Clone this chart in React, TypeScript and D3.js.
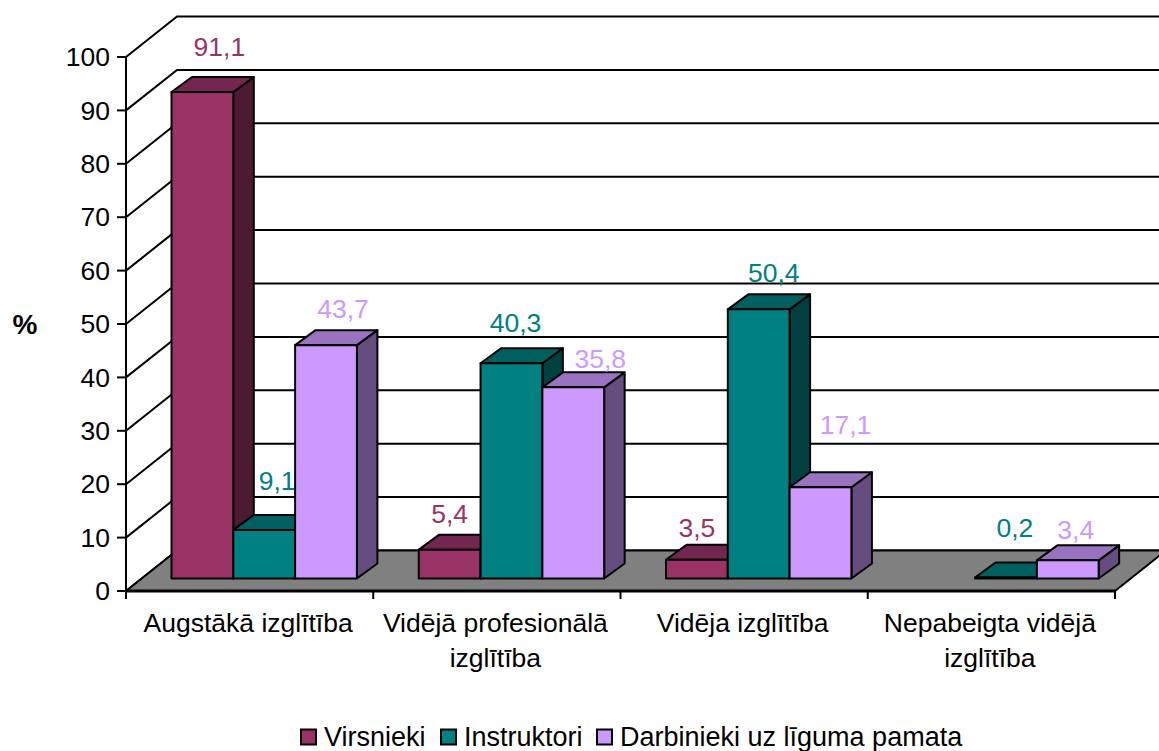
import React from "react";
import * as d3 from "d3";

const categories = [
  ["Augstākā izglītība"],
  ["Vidējā profesionālā", "izglītība"],
  ["Vidēja izglītība"],
  ["Nepabeigta vidējā", "izglītība"],
];
const seriesNames = ["Virsnieki", "Instruktori", "Darbinieki uz līguma pamata"];
const virsnieki = [91.1, 5.4, 3.5, null];
const instruktori = [9.1, 40.3, 50.4, 0.2];
const darbinieki = [43.7, 35.8, 17.1, 3.4];
const seriesValues = [virsnieki, instruktori, darbinieki];
const valueTicks = d3.range(0, 101, 10);

const frontColors = ["#993366", "#008080", "#CC99FF"];
const topColors = ["#732650", "#006060", "#9973BF"];
const sideColors = ["#4D1A33", "#004040", "#664D80"];

// hand-placed data-label nudges (px, relative to bar's front-top centre), per series/category
const labelNudgeX = [[17, 0, 0, 0], [13, 4, 15, 9], [17, 27, 25, 8]];
const labelNudgeY = [[-45, -36, -32, 0], [-49, -41, -37, -50], [-36, -29, -62, -31]];

const FONT = "'Liberation Sans', Arial, sans-serif";
const wallDx = 51, wallDy = -40.5;
const barDx = 20.5, barDy = -15;
const floorDx = 16, floorDy = -12.5;
const barW = 61.8;
const catGap = 29.5;

const y = d3.scaleLinear().domain([0, 100]).range([591, 57]);
const x = d3.scaleBand<number>().domain([0, 1, 2, 3]).range([126, 1115]);
const s = d3.scaleBand<number>().domain([0, 1, 2]).range([0, barW * 3]);
const pts = (p: number[][]) => p.map((q) => q.join(",")).join(" ");

export default function App() {
  const x0 = x.range()[0], x1 = x.range()[1];
  const base = y(0) + floorDy;
  return (
    <svg width={1159} height={751} style={{ position: "absolute", left: 0, top: 0 }} fontFamily={FONT}>
      {/* back wall gridlines + side wall */}
      {valueTicks.map((t) => (
        <g key={t} stroke="#000" strokeWidth={2} fill="none">
          <polyline points={pts([[x0, y(t)], [x0 + wallDx, y(t) + wallDy], [x1 + wallDx, y(t) + wallDy]])} />
          <line x1={x0 - 9} x2={x0} y1={y(t)} y2={y(t)} />
        </g>
      ))}
      {/* floor */}
      <polygon
        points={pts([[x0, y(0)], [x1, y(0)], [x1 + wallDx, y(0) + wallDy], [x0 + wallDx, y(0) + wallDy]])}
        fill="#808080" stroke="#000" strokeWidth={2}
      />
      <line x1={x0} x2={x0} y1={y(100)} y2={y(0)} stroke="#000" strokeWidth={2} />
      <line x1={x0} x2={x1} y1={y(0)} y2={y(0)} stroke="#000" strokeWidth={3} />
      {[0, 1, 2, 3, 4].map((i) => {
        const tx = i < 4 ? x(i)! : x1;
        return <line key={i} x1={tx} x2={tx} y1={y(0)} y2={y(0) + 8} stroke="#000" strokeWidth={2} />;
      })}

      {/* bars */}
      {categories.map((_, c) =>
        seriesValues.map((vals, j) => {
          const v = vals[c];
          if (v == null) return null;
          const l = x(c)! + floorDx + catGap + s(j)!;
          const r = l + s.bandwidth();
          const top = base - (y(0) - y(v));
          return (
            <g key={`${c}-${j}`} stroke="#000" strokeWidth={2} strokeLinejoin="round">
              <polygon points={pts([[r, top], [r + barDx, top + barDy], [r + barDx, base + barDy], [r, base]])} fill={sideColors[j]} />
              <polygon points={pts([[l, top], [l + barDx, top + barDy], [r + barDx, top + barDy], [r, top]])} fill={topColors[j]} />
              <rect x={l} y={top} width={r - l} height={base - top} fill={frontColors[j]} />
            </g>
          );
        })
      )}

      {/* data labels */}
      {categories.map((_, c) =>
        seriesValues.map((vals, j) => {
          const v = vals[c];
          if (v == null) return null;
          const l = x(c)! + floorDx + catGap + s(j)!;
          const top = base - (y(0) - y(v));
          return (
            <text key={`${c}-${j}`} x={l + barW / 2 + labelNudgeX[j][c]} y={top + labelNudgeY[j][c]}
              dy="0.35em" textAnchor="middle" fontSize={26.5} fill={frontColors[j]}>
              {String(v).replace(".", ",")}
            </text>
          );
        })
      )}

      {/* value axis labels */}
      {valueTicks.map((t) => (
        <text key={t} x={110} y={y(t)} dy="0.35em" textAnchor="end" fontSize={26.5} fill="#000">{t}</text>
      ))}
      <text x={25} y={324} dy="0.35em" textAnchor="middle" fontSize={28} fontWeight="bold" fill="#000">%</text>

      {/* category labels */}
      {categories.map((lines, c) => (
        <text key={c} textAnchor="middle" fontSize={26.5} fill="#000">
          {lines.map((ln, k) => (
            <tspan key={k} x={x(c)! + x.bandwidth() / 2 - 1.5} y={632 + k * 35}>{ln}</tspan>
          ))}
        </text>
      ))}

      {/* legend */}
      {seriesNames.map((n, j) => {
        const lx = [301, 441, 597][j];
        return (
          <g key={n}>
            <rect x={lx} y={729.5} width={15} height={15} fill={frontColors[j]} stroke="#000" strokeWidth={2} />
            <text x={lx + 23} y={746} fontSize={27} fill="#000">{n}</text>
          </g>
        );
      })}
    </svg>
  );
}
